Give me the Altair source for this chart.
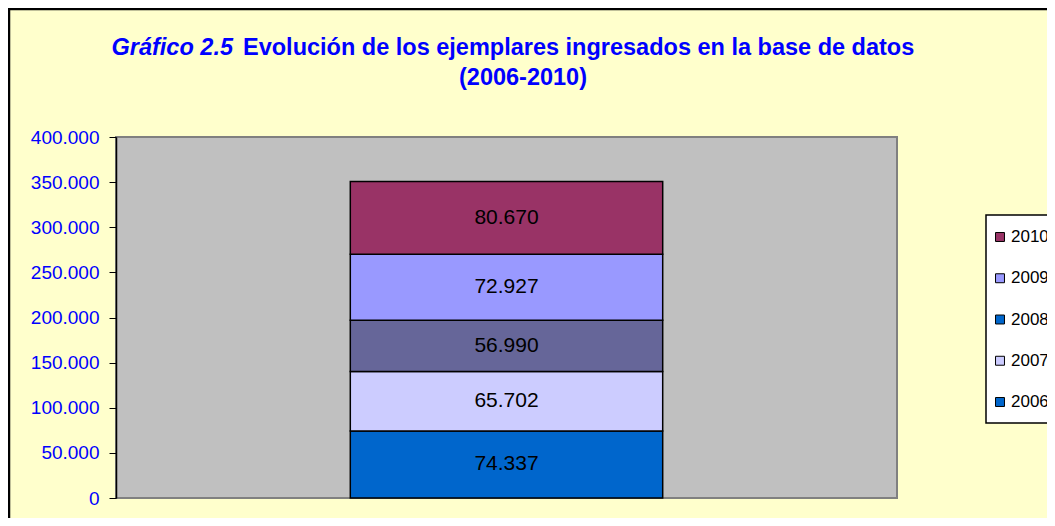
import altair as alt
import pandas as pd

years = ["2006", "2007", "2008", "2009", "2010"]
values = [74337, 65702, 56990, 72927, 80670]
bar_colors = ["#0066CC", "#CCCCFF", "#666699", "#9999FF", "#993366"]
legend_colors = ["#0066CC", "#CCCCFF", "#0066CC", "#9999FF", "#993366"]
y_ticks = [0, 50000, 100000, 150000, 200000, 250000, 300000, 350000, 400000]
title_italic = "Gráfico 2.5"
title_main = "Evolución de los ejemplares ingresados en la base de datos"
title_sub = "(2006-2010)"

FONT = "Liberation Sans"
BLUE = "#0000FF"

df = pd.DataFrame({
    "year": years,
    "value": values,
    "color": bar_colors,
    "lcolor": legend_colors,
    "order": list(range(len(years))),
    "grp": ["Total"] * len(years),
})

fmt = "replace(format(datum.value, ','), /,/g, '.')"

xenc = alt.X("grp:N", scale=alt.Scale(paddingInner=0, paddingOuter=0.75), axis=None)
yscale = alt.Scale(domain=[0, 400000], nice=False)
yaxis = alt.Axis(
    values=y_ticks, labelExpr=fmt, title=None, grid=False,
    labelColor=BLUE, labelFont=FONT, labelFontSize=19,
    tickSize=7, tickColor="black", domainColor="black", domainWidth=1.5,
    labelPadding=10,
)

bars = alt.Chart(df).mark_bar(stroke="black", strokeWidth=1.5).encode(
    x=xenc,
    y=alt.Y("value:Q", stack="zero", scale=yscale, axis=yaxis),
    fill=alt.Fill("color:N", scale=None),
    order=alt.Order("order:Q"),
)

labels = alt.Chart(df).transform_stack(
    stack="value", groupby=["grp"], as_=["y0", "y1"], sort=[alt.SortField("order")]
).transform_calculate(
    mid="(datum.y0 + datum.y1) / 2",
    label=fmt,
).mark_text(font=FONT, fontSize=21, color="black", baseline="middle").encode(
    x=xenc,
    y=alt.Y("mid:Q", scale=yscale, axis=yaxis),
    text="label:N",
)

one = alt.Data(values=[{"a": 1}])

t1 = alt.Chart(one).mark_text(
    text=title_italic, font=FONT, fontSize=23.5, fontWeight="bold", fontStyle="italic",
    color=BLUE, align="right", baseline="alphabetic",
).encode(x=alt.value(117), y=alt.value(-82))
t2 = alt.Chart(one).mark_text(
    text=title_main, font=FONT, fontSize=23.5, fontWeight="bold",
    color=BLUE, align="left", baseline="alphabetic",
).encode(x=alt.value(127), y=alt.value(-82))
t3 = alt.Chart(one).mark_text(
    text=title_sub, font=FONT, fontSize=23.5, fontWeight="bold",
    color=BLUE, align="center", baseline="alphabetic",
).encode(x=alt.value(407), y=alt.value(-52))

border = alt.Chart(one).mark_rect(fill="transparent", stroke="black", strokeWidth=2.5).encode(
    x=alt.value(-107), y=alt.value(-128), x2=alt.value(1100), y2=alt.value(600)
)

legend_box = alt.Chart(one).mark_rect(fill="white", stroke="black", strokeWidth=1.5).encode(
    x=alt.value(870), y=alt.value(78), x2=alt.value(1000), y2=alt.value(286)
)

ly = alt.Y("year:N", scale=alt.Scale(type="point", domain=years[::-1], range=[100, 265], padding=0), axis=None)

legend_sym = alt.Chart(df).mark_square(size=80, stroke="black", strokeWidth=1, opacity=1).encode(
    x=alt.value(884), y=ly, fill=alt.Fill("lcolor:N", scale=None)
)
legend_txt = alt.Chart(df).mark_text(font=FONT, fontSize=17, color="black", align="left", baseline="middle").encode(
    x=alt.value(895), y=ly, text="year:N"
)

main = alt.layer(bars, labels)
leg = alt.layer(legend_box, legend_sym, legend_txt)

chart = alt.layer(border, main, leg, t1, t2, t3).resolve_scale(y="independent").properties(
    width=781,
    height=361,
    autosize=alt.AutoSizeParams(type="none"),
    padding={"left": 108, "top": 129, "right": 150, "bottom": 20},
    background="#FFFFCC",
).configure_view(fill="#C0C0C0", stroke="#808080", strokeWidth=2)

chart.save("out.html", embed_options={"renderer": "svg", "actions": False})
